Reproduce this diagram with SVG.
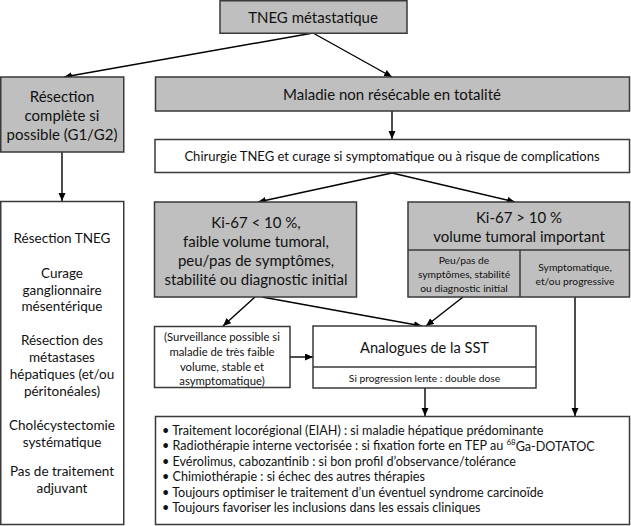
<svg xmlns="http://www.w3.org/2000/svg" width="631" height="526" viewBox="0 0 631 526">
<style>
.box{stroke:#3a3a3a;stroke-width:1.5}
.g{fill:#bfbfbf}
.w{fill:#ffffff}
text{font-family:Lato,"Liberation Sans",sans-serif;fill:#111;text-anchor:middle;dominant-baseline:central}
.c{stroke:#000;stroke-width:1.4;fill:none;marker-end:url(#ah)}
.bl{text-anchor:start}
</style>
<defs>
<marker id="ah" markerUnits="userSpaceOnUse" markerWidth="9" markerHeight="8" refX="8" refY="3.5" orient="auto">
<path d="M0,0 L8,3.5 L0,7 z" fill="#000"/>
</marker>
</defs>
<rect x="0" y="0" width="631" height="526" fill="#fff"/>
<g id="connectors">
<path class="c" d="M313,33 L64,77"/>
<path class="c" d="M313,33 L392,77"/>
<path class="c" d="M392,111 L392,139"/>
<path class="c" d="M62,152 L62,201"/>
<path class="c" d="M392,173 L258,202"/>
<path class="c" d="M392,173 L515,202"/>
<path class="c" d="M255,297 L223,326"/>
<path class="c" d="M262,297 L422,326"/>
<path class="c" d="M463,297 L426,326"/>
<path class="c" d="M290,357 L313,357"/>
<path class="c" d="M425,388 L425,416"/>
<path class="c" d="M575,297 L575,416"/>
</g>
<g id="tneg">
<rect class="box g" x="220" y="0.75" width="187" height="32.5"/>
<text x="313" y="17" font-size="15">TNEG métastatique</text>
</g>
<g id="resection-complete">
<rect class="box g" x="0.75" y="77" width="123" height="75"/>
<text x="62" y="96" font-size="15">Résection</text>
<text x="62" y="115" font-size="15">complète si</text>
<text x="62" y="134" font-size="15">possible (G1/G2)</text>
</g>
<g id="maladie">
<rect class="box g" x="155.5" y="77" width="474" height="34"/>
<text x="392" y="94" font-size="15">Maladie non résécable en totalité</text>
</g>
<g id="chirurgie">
<rect class="box w" x="155" y="139.5" width="474.5" height="33"/>
<text x="392" y="156" font-size="13">Chirurgie TNEG et curage si symptomatique ou à risque de complications</text>
</g>
<g id="left-box">
<rect class="box w" x="0.75" y="201.5" width="123" height="323"/>
<text x="62" y="238" font-size="13.5">Résection TNEG</text>
<text x="62" y="272.5" font-size="13.5">Curage</text>
<text x="62" y="289.5" font-size="13.5">ganglionnaire</text>
<text x="62" y="305.5" font-size="13.5">mésentérique</text>
<text x="62" y="340" font-size="13.5">Résection des</text>
<text x="62" y="357" font-size="13.5">métastases</text>
<text x="62" y="374" font-size="13.5">hépatiques (et/ou</text>
<text x="62" y="391" font-size="13.5">péritonéales)</text>
<text x="62" y="425" font-size="13.5">Cholécystectomie</text>
<text x="62" y="441.5" font-size="13.5">systématique</text>
<text x="62" y="471" font-size="13.5">Pas de traitement</text>
<text x="62" y="488" font-size="13.5">adjuvant</text>
</g>
<g id="ki-low">
<rect class="box g" x="154.5" y="202" width="202" height="95"/>
<text x="256" y="222" font-size="15">Ki-67 &lt; 10 %,</text>
<text x="256" y="241" font-size="15">faible volume tumoral,</text>
<text x="256" y="260" font-size="15">peu/pas de symptômes,</text>
<text x="256" y="279" font-size="15">stabilité ou diagnostic initial</text>
</g>
<g id="ki-high">
<rect class="box g" x="408" y="202" width="221.5" height="95"/>
<line class="box" x1="408" y1="250" x2="629.5" y2="250"/>
<line class="box" x1="520" y1="250" x2="520" y2="297"/>
<text x="519" y="217" font-size="15">Ki-67 &gt; 10 %</text>
<text x="519" y="236" font-size="15">volume tumoral important</text>
<text x="464" y="260" font-size="10.3">Peu/pas de</text>
<text x="464" y="274" font-size="10.3">symptômes, stabilité</text>
<text x="464" y="287.5" font-size="10.3">ou diagnostic initial</text>
<text x="575" y="267" font-size="10.3">Symptomatique,</text>
<text x="575" y="281" font-size="10.3">et/ou progressive</text>
</g>
<g id="surveillance">
<rect class="box w" x="154.5" y="326.5" width="135.5" height="61"/>
<text x="222" y="336" font-size="11.3">(Surveillance possible si</text>
<text x="222" y="351" font-size="11.3">maladie de très faible</text>
<text x="222" y="366" font-size="11.3">volume, stable et</text>
<text x="222" y="380" font-size="11.3">asymptomatique)</text>
</g>
<g id="analogues">
<rect class="box w" x="313" y="326" width="223" height="62"/>
<line class="box" x1="313" y1="367" x2="536" y2="367"/>
<text x="424.5" y="347.5" font-size="14.6">Analogues de la SST</text>
<text x="424.5" y="378" font-size="10.3">Si progression lente : double dose</text>
</g>
<g id="traitements">
<rect class="box w" x="155.5" y="416.5" width="474" height="108"/>
<text class="bl" x="162" y="430" font-size="12.6">• Traitement locorégional (EIAH) : si maladie hépatique prédominante</text>
<text class="bl" x="162" y="445.5" font-size="12.6">• Radiothérapie interne vectorisée : si fixation forte en TEP au <tspan font-size="8" dy="-4">68</tspan><tspan dy="4">Ga-DOTATOC</tspan></text>
<text class="bl" x="162" y="461" font-size="12.6">• Evérolimus, cabozantinib : si bon profil d’observance/tolérance</text>
<text class="bl" x="162" y="476.5" font-size="12.6">• Chimiothérapie : si échec des autres thérapies</text>
<text class="bl" x="162" y="492" font-size="12.6">• Toujours optimiser le traitement d’un éventuel syndrome carcinoïde</text>
<text class="bl" x="162" y="507.5" font-size="12.6">• Toujours favoriser les inclusions dans les essais cliniques</text>
</g>
</svg>
